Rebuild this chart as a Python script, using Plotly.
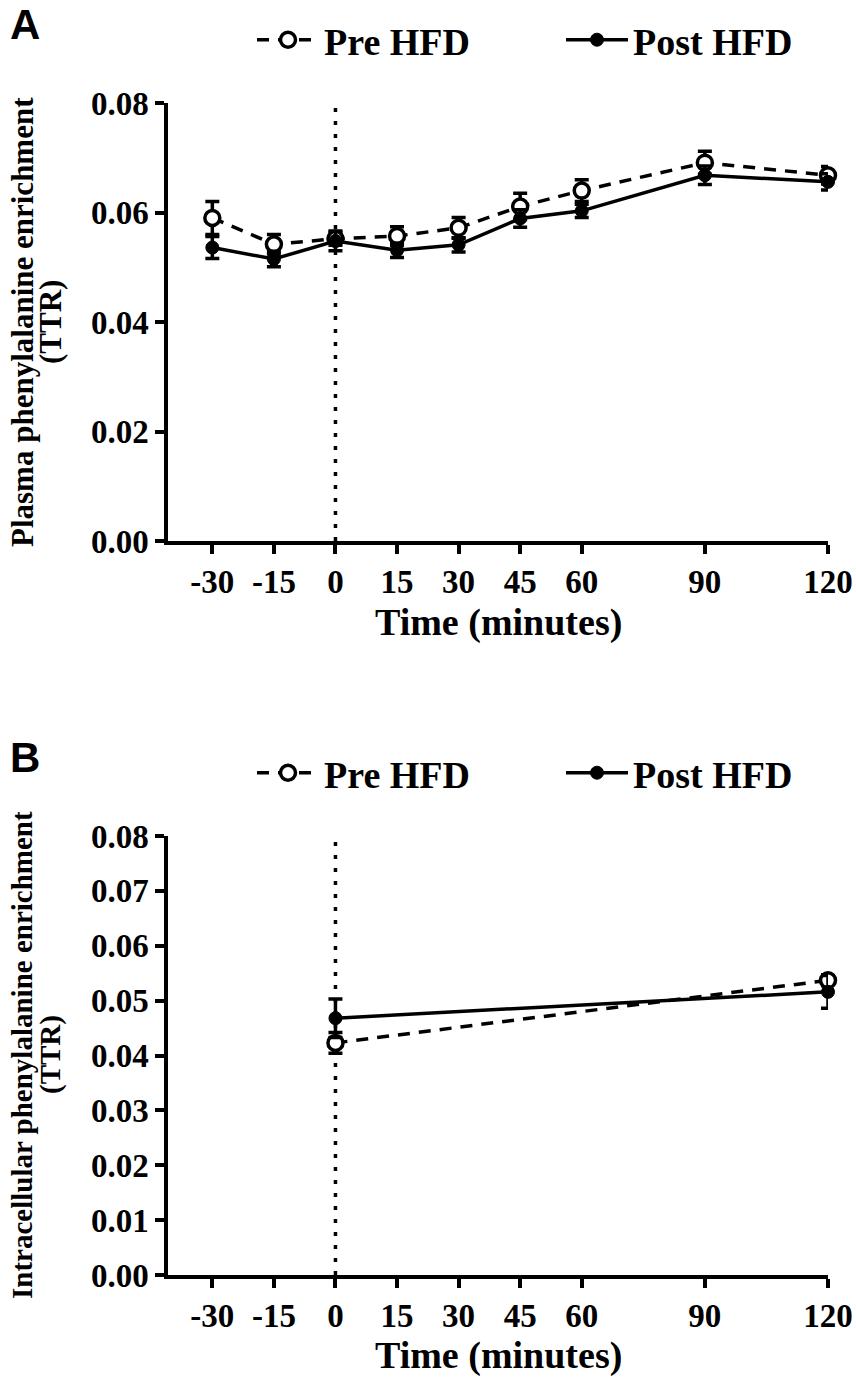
import plotly.graph_objects as go

# ---------------- data ----------------
time_a = [-30, -15, 0, 15, 30, 45, 60, 90, 120]
pre_a = [0.0590, 0.0542, 0.0552, 0.0557, 0.0572, 0.0611, 0.0640, 0.0691, 0.0668]
pre_a_err = [0.0030, 0.0018, 0.0012, 0.0017, 0.0019, 0.0024, 0.0020, 0.0021, 0.0016]
post_a = [0.0536, 0.0515, 0.0548, 0.0531, 0.0541, 0.0589, 0.0603, 0.0668, 0.0656]
post_a_err = [0.0020, 0.0014, 0.0018, 0.0013, 0.0013, 0.0016, 0.0012, 0.0017, 0.0015]

time_b = [0, 120]
pre_b = [0.0423, 0.0537]
pre_b_err = [0.0019, 0.0010]
post_b = [0.0468, 0.0516]
post_b_err = [0.0035, 0.0030]

x_ticks = [-30, -15, 0, 15, 30, 45, 60, 90, 120]
x_ticktext = ["-30", "-15", "0", "15", "30", "45", "60", "90", "120"]
y_ticks_a = [0.00, 0.02, 0.04, 0.06, 0.08]
y_ticks_b = [0.00, 0.01, 0.02, 0.03, 0.04, 0.05, 0.06, 0.07, 0.08]

SERIF = "Liberation Serif"
W, H = 856, 1380

fig = go.Figure()

def add_series(x, y, err, pre, xa, ya, legend, show):
    if pre:
        marker = dict(symbol="circle", size=15, color="white",
                      line=dict(color="black", width=3.5))
        line = dict(color="black", width=3.5, dash="12px,9px")
        name = "Pre HFD"
    else:
        marker = dict(symbol="circle", size=13, color="black",
                      line=dict(color="black", width=1))
        line = dict(color="black", width=3.5)
        name = "Post HFD"
    fig.add_trace(go.Scatter(
        x=x, y=y, mode="lines+markers", name=name,
        marker=marker, line=line,
        error_y=dict(type="data", array=err, visible=True, color="black",
                     thickness=3.5, width=7),
        xaxis=xa, yaxis=ya, legend=legend, showlegend=show, cliponaxis=False,
    ))

add_series(time_a, pre_a, pre_a_err, True, "x", "y", "legend", True)
add_series(time_a, post_a, post_a_err, False, "x", "y", "legend", True)
add_series(time_b, pre_b, pre_b_err, True, "x2", "y2", "legend2", True)
add_series(time_b, post_b, post_b_err, False, "x2", "y2", "legend2", True)

# dotted vertical line at time 0
for xr, yr in (("x", "y"), ("x2", "y2")):
    fig.add_shape(type="line", xref=xr, yref=yr, x0=0, x1=0, y0=0, y1=0.08,
                  line=dict(color="black", width=3.5, dash="4px,9px"), layer="below")

def px_x(p):
    return p / W

def px_y(p):
    return 1 - p / H

xdom = [px_x(168), px_x(828)]
dom_a = [px_y(541), px_y(103)]
dom_b = [px_y(1275), px_y(836)]

tickfont = dict(family=SERIF, size=33, color="black", weight="bold")

def xaxis_cfg(anchor):
    return dict(domain=xdom, anchor=anchor, range=[-40.8, 120],
                tickvals=x_ticks, ticktext=x_ticktext, tickfont=tickfont,
                showline=True, linecolor="black", linewidth=3.5,
                ticks="outside", ticklen=9, tickwidth=3.5, tickcolor="black",
                showgrid=False, zeroline=False, fixedrange=True, automargin=False)

def yaxis_cfg(anchor, dom, ticks):
    return dict(domain=dom, anchor=anchor, range=[0, 0.08],
                tickvals=ticks, tickformat=".2f", tickfont=tickfont,
                showline=True, linecolor="black", linewidth=3.5,
                ticks="outside", ticklen=9, tickwidth=3.5, tickcolor="black",
                showgrid=False, zeroline=False, fixedrange=True, automargin=False)

legend_common = dict(orientation="h", font=dict(family=SERIF, size=38, color="black", weight="bold"),
                     bgcolor="rgba(0,0,0,0)", xanchor="left", yanchor="middle",
                     itemwidth=62, entrywidth=232, entrywidthmode="pixels",
                     itemclick=False, itemdoubleclick=False)

fig.update_layout(
    width=W, height=H, margin=dict(l=0, r=0, t=0, b=0, autoexpand=False),
    paper_bgcolor="white", plot_bgcolor="white",
    xaxis=xaxis_cfg("y"),
    yaxis=yaxis_cfg("x", dom_a, y_ticks_a),
    xaxis2=xaxis_cfg("y2"),
    yaxis2=yaxis_cfg("x2", dom_b, y_ticks_b),
    legend=dict(x=px_x(252), y=px_y(40), **legend_common),
    legend2=dict(x=px_x(252), y=px_y(773), **legend_common),
)

annotations = [
    dict(text="<b>A</b>", x=px_x(8), y=px_y(24), xanchor="left", yanchor="middle",
         font=dict(family="Liberation Sans", size=42, color="black")),
    dict(text="<b>B</b>", x=px_x(8), y=px_y(757), xanchor="left", yanchor="middle",
         font=dict(family="Liberation Sans", size=42, color="black")),
    dict(text="<b>Time (minutes)</b>", x=px_x(498), y=px_y(622), xanchor="center", yanchor="middle",
         font=dict(family=SERIF, size=38, color="black")),
    dict(text="<b>Time (minutes)</b>", x=px_x(498), y=px_y(1355), xanchor="center", yanchor="middle",
         font=dict(family=SERIF, size=38, color="black")),
    dict(text="<b>Plasma phenylalanine enrichment</b>", x=px_x(22), y=px_y(322), textangle=-90,
         xanchor="center", yanchor="middle", font=dict(family=SERIF, size=31, color="black")),
    dict(text="<b>(TTR)</b>", x=px_x(50), y=px_y(322), textangle=-90,
         xanchor="center", yanchor="middle", font=dict(family=SERIF, size=31, color="black")),
    dict(text="<b>Intracellular phenylalanine enrichment</b>", x=px_x(22), y=px_y(1055), textangle=-90,
         xanchor="center", yanchor="middle", font=dict(family=SERIF, size=29, color="black")),
    dict(text="<b>(TTR)</b>", x=px_x(50), y=px_y(1055), textangle=-90,
         xanchor="center", yanchor="middle", font=dict(family=SERIF, size=29, color="black")),
]
for a in annotations:
    a.update(xref="paper", yref="paper", showarrow=False)
fig.update_layout(annotations=annotations)

fig.write_html("out.html")
